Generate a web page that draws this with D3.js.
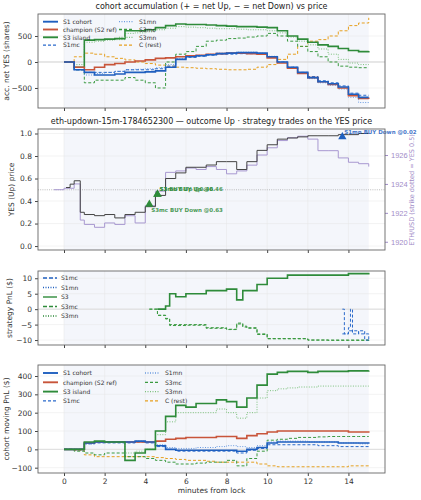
<!DOCTYPE html>
<html><head><meta charset="utf-8">
<script src="https://cdn.jsdelivr.net/npm/d3@7"></script>
<style>body{margin:0;background:#fff;font-family:"DejaVu Sans",sans-serif}</style>
</head><body><svg width="421" height="500"></svg>
<script>
// half-minute grid 0..15
var T = d3.range(0, 15.01, 0.5);

// panel 1: accumulated net YES (shares)
var accS1     = [0,-150,-200,-250,-250,-230,-200,-200,-190,-170,-100,50,100,120,140,160,170,180,180,170,100,0,-100,-200,-300,-380,-420,-480,-620,-680,-680];
var accChamp  = [0,-100,-150,-100,-50,-30,0,20,40,70,80,100,120,130,150,160,170,170,160,150,80,-20,-120,-220,-300,-380,-430,-500,-650,-700,-710];
var accS3     = [0,-100,420,430,440,450,600,600,620,660,700,730,720,720,710,700,690,680,680,670,660,600,500,440,380,330,300,260,220,200,210];
var accS1mc   = [0,-150,-200,-200,-200,-180,-150,-150,-150,-130,-80,50,90,110,130,150,150,160,160,150,100,0,-100,-200,-280,-360,-400,-460,-600,-640,-640];
var accS1mn   = [0,-150,-250,-220,-200,-180,-150,-140,-130,-110,-50,70,110,130,150,170,180,190,190,170,110,0,-100,-210,-320,-400,-450,-520,-680,-780,-800];
var accS3mc   = [0,-150,-400,-350,-350,-350,-300,-350,-400,-500,0,150,200,300,400,420,450,460,480,500,550,500,400,300,200,100,0,-80,-100,-110,-110];
var accS3mn   = [0,-50,380,400,420,430,550,560,580,620,650,680,670,660,650,640,640,630,620,620,600,560,480,400,330,250,150,50,-20,-50,-50];
var accC      = [0,100,170,150,100,70,40,0,-30,-60,-80,-100,-110,-120,-130,-140,-150,-150,-140,-100,-50,50,150,300,400,430,500,600,700,750,850];

// panel 2: YES price + ETH
var yesT   = [0.1,0.3,0.5,0.8,1,1.5,2,2.5,3,3.5,4,4.5,5,5.5,6,6.5,7,7.5,8,8.5,9,9.5,10,10.5,11,11.5,12,12.5,13,13.5,14,14.5,15];
var yesP   = [0.52,0.55,0.58,0.3,0.28,0.27,0.28,0.25,0.28,0.3,0.35,0.45,0.6,0.65,0.7,0.7,0.72,0.75,0.75,0.68,0.75,0.85,0.9,0.95,0.96,0.97,0.98,0.98,0.98,0.99,0.99,1.0,1.0];
var ethT   = [-0.5,0,0.5,0.8,1,1.5,2,2.5,3,3.5,4,4.5,5,5.5,6,6.5,7,7.5,8,8.5,9,9.5,10,10.5,11,11.5,12,12.5,13,13.5,14,14.5,15];
var ethP   = [1923.6,1923.7,1924,1921.5,1921.2,1921,1921.3,1921.2,1921.8,1921.3,1922.5,1923.5,1924.8,1924.9,1925.1,1925,1925.2,1925,1924.7,1924.9,1925.3,1926,1926.5,1927,1927.2,1927.3,1927.1,1926.3,1926.3,1925.8,1925.5,1925.4,1925.2];
var trades = [
  {t:4.2, p:0.37, c:"#2e8b3a", label:"S3mc BUY Down @0.63", dy:8},
  {t:4.6, p:0.46, c:"#2e8b3a", label:"S3mn BUY Up @0.46", dy:-3},
  {t:4.6, p:0.46, c:"#2e8b3a", label:"S3 BUY Up @0.46", dy:-3},
  {t:13.7, p:0.97, c:"#1f5fbf", label:"S1mn BUY Down @0.02", dy:-3}
];

// panel 3: strategy PnL ($)
var pS3T   = [4.6,5,5.2,5.5,6,7,8,8.5,8.8,9,9.5,10,11,12,13,14,15];
var pS3    = [0,1,5,4,5,6,6.5,3,6,6,8,10,11,11,11,11.5,11.8];
var pS3mcT = [4.2,4.6,5,5.2,6,7,8,8.5,8.8,9,9.5,10,11,12,13,14,15];
var pS3mc  = [0,-2,-3,-5,-5,-6,-6.5,-4.5,-5.5,-6,-8,-9.5,-9.5,-10,-10,-10,-10.3];
var pS3mn  = [0,-2,-3.2,-5.3,-5.2,-6.2,-6.6,-4.8,-5.8,-6.2,-8.2,-9.6,-9.6,-10,-10.1,-10.1,-10.4];
var pS1mcT = [13.7,13.8,14,14.1,14.2,14.5,14.8,15];
var pS1mc  = [0,-8,-6,0,-8,-7,-10,-10];
var pS1mnT = [13.7,14,14.5,15];
var pS1mn  = [-8,-7,-8,-10];

// panel 4: cohort moving PnL ($)
var mvS3    = [0,0,40,45,40,40,-60,-20,0,100,180,240,230,250,250,270,260,230,280,350,410,420,425,425,420,425,425,425,428,428,430];
var mvS3mn  = [0,0,35,40,40,40,-20,-10,0,80,150,200,200,200,200,220,200,170,200,280,320,330,335,340,340,345,345,345,345,345,345];
var mvS3mc  = [0,-10,-20,-30,-20,-20,-40,-40,-50,-60,-70,-80,-80,-75,-70,-70,-60,-90,-50,-10,50,55,60,65,65,68,70,70,70,70,70];
var mvChamp = [0,0,35,40,40,40,40,40,40,45,55,60,65,65,65,70,70,60,75,85,95,100,100,100,100,100,100,100,95,95,90];
var mvS1    = [0,0,35,40,40,40,40,45,40,20,0,-5,-5,-5,-5,-5,-5,-10,0,10,35,40,40,40,40,40,40,35,35,35,30];
var mvS1mc  = [0,0,30,35,35,35,35,40,35,15,0,-10,-10,-10,-10,-10,-10,-20,-5,5,25,25,25,25,25,20,20,15,15,15,10];
var mvS1mn  = [0,0,30,40,40,40,40,45,40,25,10,5,5,10,10,15,20,15,10,20,40,45,45,45,40,40,40,35,35,30,30];
var mvC     = [0,-5,-30,-40,-40,-40,-40,-40,-40,-45,-50,-55,-60,-60,-65,-70,-70,-70,-70,-80,-90,-95,-95,-95,-95,-95,-95,-95,-90,-90,-85];

var sty = {
  "S1 cohort":        {c:"#1f5fbf", w:1.6, d:null},
  "champion (S2 ref)":{c:"#c8553a", w:1.6, d:null},
  "S3 island":        {c:"#2e8b3a", w:1.6, d:null},
  "S1mc":             {c:"#2a6acb", w:1, d:"3,2"},
  "S1mn":             {c:"#6a9be0", w:1, d:"1,1.5"},
  "S3mc":             {c:"#3a9a40", w:1, d:"3,2"},
  "S3mn":             {c:"#7cc07c", w:1, d:"1,1.5"},
  "C (rest)":         {c:"#e6a020", w:1, d:"3,2"}
};

var svg = d3.select("svg");
var L = 38, R = 385;
var x = d3.scaleLinear().domain([-1.28, 15.8]).range([L, R]);

function panel(top, bot, dom, ticks, label, bottom, lx) {
  var y = d3.scaleLinear().domain(dom).range([bot, top]);
  var g = svg.append("g");
  g.append("rect").attr("x", L).attr("y", top).attr("width", R - L).attr("height", bot - top).attr("fill", "#fff");
  g.append("rect").attr("x", x(0)).attr("y", top).attr("width", x(15) - x(0)).attr("height", bot - top).attr("fill", "#f4f6fb");
  g.selectAll(".gx").data(d3.range(0, 15, 2)).enter().append("line")
    .attr("x1", d => x(d)).attr("x2", d => x(d)).attr("y1", top).attr("y2", bot)
    .attr("stroke", "#e6e6e6").attr("stroke-width", 0.5);
  g.selectAll(".gy").data(ticks).enter().append("line")
    .attr("x1", L).attr("x2", R).attr("y1", d => y(d)).attr("y2", d => y(d))
    .attr("stroke", "#e6e6e6").attr("stroke-width", 0.5);
  var ax = g.append("g").attr("transform", "translate(0," + bot + ")")
    .call(d3.axisBottom(x).tickValues(d3.range(0, 15, 2)).tickSize(3).tickFormat(bottom ? d3.format("d") : ""));
  var ay = g.append("g").attr("transform", "translate(" + L + ",0)")
    .call(d3.axisLeft(y).tickValues(ticks).tickSize(3).tickFormat(d => d < 0 ? "\u2212" + Math.abs(d) : (d % 1 ? d.toFixed(1) : (ticks.some(t => t % 1) ? d.toFixed(1) : d))));
  [ax, ay].forEach(a => {
    a.select(".domain").remove();
    a.selectAll("text").attr("font-size", 7.5).attr("fill", "#333").attr("font-family", "DejaVu Sans");
    a.selectAll("line").attr("stroke", "#444");
  });
  g.append("text").attr("transform", "translate(" + (lx || 12) + "," + ((top + bot) / 2) + ") rotate(-90)")
    .attr("text-anchor", "middle").attr("font-size", 7.5).attr("fill", "#333").text(label);
  return {y: y, g: g, top: top, bot: bot};
}
function frame(p) {
  svg.append("rect").attr("x", L).attr("y", p.top).attr("width", R - L).attr("height", p.bot - p.top)
    .attr("fill", "none").attr("stroke", "#666").attr("stroke-width", 0.9);
}
function series(p, xs, ys, name) {
  var s = sty[name];
  var line = d3.line().x(d => x(d[0])).y(d => p.y(d[1])).curve(d3.curveStepAfter);
  p.g.append("path").datum(d3.zip(xs, ys)).attr("d", line).attr("fill", "none")
    .attr("stroke", s.c).attr("stroke-width", s.w).attr("stroke-dasharray", s.d);
}
function legend(p, names, rows, x0, y0, dx, dy) {
  names.forEach(function(n, i) {
    var s = sty[n], cx = x0 + Math.floor(i / rows) * dx, cy = y0 + (i % rows) * dy;
    p.g.append("line").attr("x1", cx).attr("x2", cx + 15).attr("y1", cy).attr("y2", cy)
      .attr("stroke", s.c).attr("stroke-width", s.w + 0.3).attr("stroke-dasharray", s.d);
    p.g.append("text").attr("x", cx + 20).attr("y", cy + 2.3).attr("font-size", 6).attr("fill", "#333").text(n);
  });
}
function title(t, yy) {
  svg.append("text").attr("x", (L + R) / 2).attr("y", yy).attr("text-anchor", "middle")
    .attr("font-size", 8).attr("fill", "#222").text(t);
}

var names8 = ["S1 cohort","champion (S2 ref)","S3 island","S1mc","S1mn","S3mc","S3mn","C (rest)"];

// ---- panel 1
title("cohort accumulation (+ = net Up, \u2212 = net Down) vs price", 9);
var p1 = panel(14, 108, [-885, 923], [-500, 0, 500], "acc. net YES (shares)", false, 9);
p1.g.append("line").attr("x1", L).attr("x2", R).attr("y1", p1.y(0)).attr("y2", p1.y(0)).attr("stroke", "#ccc").attr("stroke-width", 0.8);
var acc = [accS1, accChamp, accS3, accS1mc, accS1mn, accS3mc, accS3mn, accC];
[7, 6, 5, 4, 3, 2, 1, 0].forEach(i => series(p1, T, acc[i], names8[i]));
legend(p1, names8, 4, 43, 21.7, 76, 7.8);
frame(p1);

// ---- panel 2
title("eth-updown-15m-1784652300 \u2014 outcome Up \u00b7 strategy trades on the YES price", 124);
var p2 = panel(129, 250, [-0.035, 1.04], [0, 0.2, 0.4, 0.6, 0.8, 1.0], "YES (Up) price", false, 14);
var y2r = d3.scaleLinear().domain([1919.43, 1927.8]).range([250, 129]);
var axr = p2.g.append("g").attr("transform", "translate(" + R + ",0)")
  .call(d3.axisRight(y2r).tickValues([1920, 1922, 1924, 1926]).tickSize(3).tickFormat(d3.format("d")));
axr.select(".domain").remove();
axr.selectAll("text").attr("font-size", 7.5).attr("fill", "#9f8cc8");
axr.selectAll("line").attr("stroke", "#9f8cc8");
p2.g.append("text").attr("transform", "translate(414,190) rotate(-90)").attr("text-anchor", "middle")
  .attr("font-size", 6.5).attr("fill", "#9f8cc8").text("ETH/USD (strike dotted = YES 0.5)");
p2.g.append("line").attr("x1", L).attr("x2", R).attr("y1", p2.y(0.5)).attr("y2", p2.y(0.5))
  .attr("stroke", "#aaa").attr("stroke-width", 0.8).attr("stroke-dasharray", "1,1.2");
p2.g.append("path").datum(d3.zip(ethT, ethP))
  .attr("d", d3.line().x(d => x(d[0])).y(d => y2r(d[1])).curve(d3.curveStepAfter))
  .attr("fill", "none").attr("stroke", "#a898d0").attr("stroke-width", 1);
p2.g.append("path").datum(d3.zip(yesT, yesP))
  .attr("d", d3.line().x(d => x(d[0])).y(d => p2.y(d[1])).curve(d3.curveStepAfter))
  .attr("fill", "none").attr("stroke", "#444").attr("stroke-width", 1);
trades.forEach(function(d) {
  var cx = x(d.t), cy = p2.y(d.p);
  p2.g.append("path").attr("d", d3.symbol(d3.symbolTriangle, 30)()).attr("transform", "translate(" + cx + "," + cy + ")").attr("fill", d.c);
  p2.g.append("text").attr("x", cx + 2).attr("y", cy + d.dy).attr("font-size", 5.5).attr("font-weight", "bold")
    .attr("fill", d.c).attr("opacity", 0.85).text(d.label);
});
frame(p2);

// ---- panel 3
var p3 = panel(271, 345, [-11.6, 12.35], [-10, -5, 0, 5, 10], "strategy PnL ($)", false, 12);
p3.g.append("line").attr("x1", L).attr("x2", R).attr("y1", p3.y(0)).attr("y2", p3.y(0)).attr("stroke", "#ddd").attr("stroke-width", 1);
series(p3, pS3mcT, pS3mn, "S3mc");
series(p3, pS3mcT, pS3mc, "S3mc");
series(p3, pS3T, pS3, "S3 island");
series(p3, pS1mnT, pS1mn, "S1mc");
series(p3, pS1mcT, pS1mc, "S1mc");
var leg3 = [["S1mc", "#1f5fbf", "4,2"], ["S1mn", "#1f5fbf", "1,1.5"], ["S3", "#2e8b3a", null], ["S3mc", "#2e8b3a", "4,2"], ["S3mn", "#2e8b3a", "1,1.5"]];
leg3.forEach(function(d, i) {
  var cy = 278 + i * 9.5;
  p3.g.append("line").attr("x1", 43).attr("x2", 57).attr("y1", cy).attr("y2", cy)
    .attr("stroke", d[1]).attr("stroke-width", 1.4).attr("stroke-dasharray", d[2]);
  p3.g.append("text").attr("x", 61).attr("y", cy + 2.3).attr("font-size", 6).attr("fill", "#333").text(d[0]);
});
frame(p3);

// ---- panel 4
var p4 = panel(365, 473, [-129, 460], [-100, 0, 100, 200, 300, 400], "cohort moving PnL ($)", true, 9);
p4.g.append("line").attr("x1", L).attr("x2", R).attr("y1", p4.y(0)).attr("y2", p4.y(0)).attr("stroke", "#ddd").attr("stroke-width", 1);
var mv = [mvS1, mvChamp, mvS3, mvS1mc, mvS1mn, mvS3mc, mvS3mn, mvC];
[7, 6, 5, 4, 3, 1, 0, 2].forEach(i => series(p4, T, mv[i], names8[i]));
legend(p4, names8, 4, 43, 373, 102, 9.3);
frame(p4);
p4.g.append("text").attr("x", (L + R) / 2).attr("y", 493).attr("text-anchor", "middle")
  .attr("font-size", 7.5).attr("fill", "#333").text("minutes from lock");
</script></body></html>
